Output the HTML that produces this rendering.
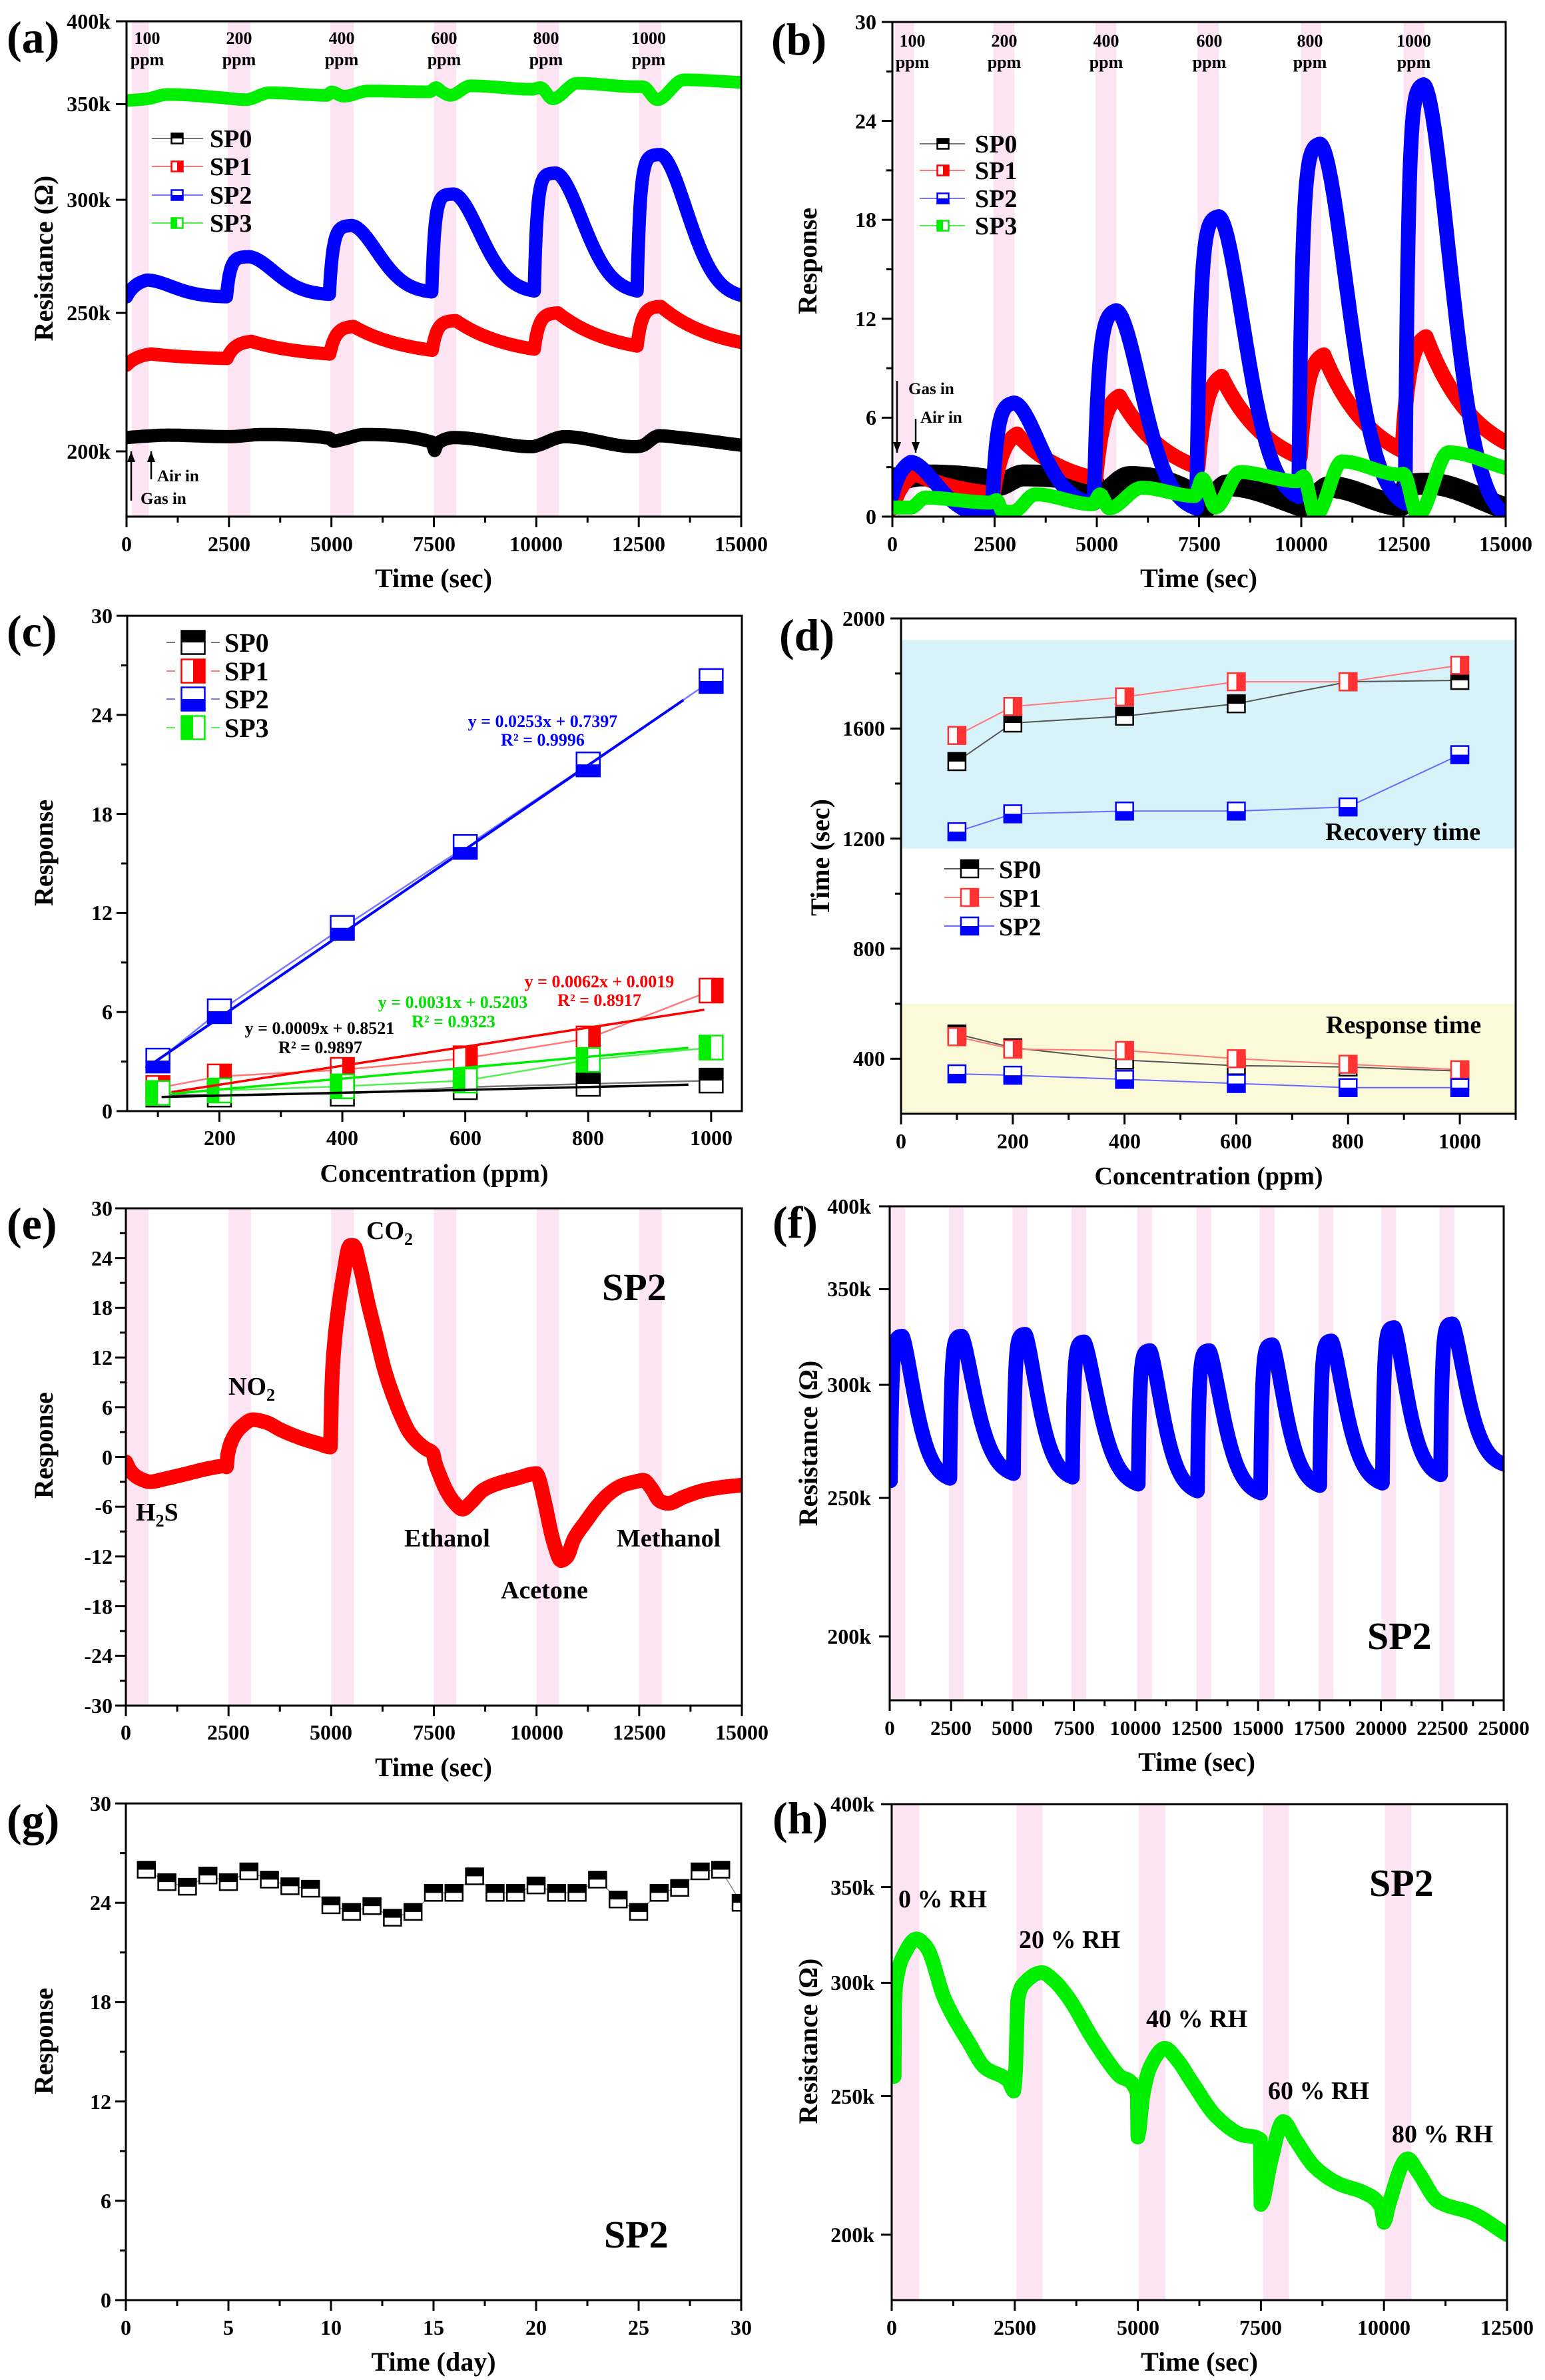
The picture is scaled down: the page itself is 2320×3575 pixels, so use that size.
<!DOCTYPE html>
<html><head><meta charset="utf-8">
<style>
html,body{margin:0;padding:0;background:#fff;}
svg{display:block;}
text{font-family:"Liberation Serif","Times New Roman",serif;font-weight:bold;fill:#000;}
.tk{font-size:32px;}
.tk31{font-size:31px;}
.tl{font-size:40px;}
.tc{font-size:38px;}
.pl{font-size:68px;}
.lg{font-size:38px;}
.lc{font-size:40px;}
.pp{font-size:26px;}
.an{font-size:25px;}
.gs{font-size:38px;}
.eq{font-size:26px;}
.sp{font-size:58px;}
.m{text-anchor:middle;}
.e{text-anchor:end;}
</style></head><body>
<svg id="s" width="2320" height="3575" viewBox="0 0 2320 3575" xmlns="http://www.w3.org/2000/svg">
<defs id="defs"></defs>
<rect x="0" y="0" width="2320" height="3575" fill="#fff"/>
<g id="bg"></g>
<g id="data"></g>
<g id="fg"></g>

<!-- ===== Panel (a) ===== -->
<text class="pl" x="10" y="79">(a)</text>
<text class="tk e" x="166" y="43">400k</text>
<text class="tk e" x="166" y="167">350k</text>
<text class="tk e" x="166" y="311">300k</text>
<text class="tk e" x="166" y="481">250k</text>
<text class="tk e" x="166" y="689">200k</text>
<text class="tk m" x="190" y="828">0</text>
<text class="tk m" x="344" y="828">2500</text>
<text class="tk m" x="498" y="828">5000</text>
<text class="tk m" x="652" y="828">7500</text>
<text class="tk m" x="805" y="828">10000</text>
<text class="tk m" x="959" y="828">12500</text>
<text class="tk m" x="1113" y="828">15000</text>
<text class="tl m" x="651" y="882">Time (sec)</text>
<text class="tl m" transform="translate(79,388) rotate(-90)">Resistance (Ω)</text>
<text class="pp m" x="221" y="66">100</text><text class="pp m" x="221" y="98">ppm</text>
<text class="pp m" x="359" y="66">200</text><text class="pp m" x="359" y="98">ppm</text>
<text class="pp m" x="513" y="66">400</text><text class="pp m" x="513" y="98">ppm</text>
<text class="pp m" x="667" y="66">600</text><text class="pp m" x="667" y="98">ppm</text>
<text class="pp m" x="820" y="66">800</text><text class="pp m" x="820" y="98">ppm</text>
<text class="pp m" x="974" y="66">1000</text><text class="pp m" x="974" y="98">ppm</text>
<text class="lg" x="315" y="221">SP0</text>
<text class="lg" x="315" y="263">SP1</text>
<text class="lg" x="315" y="306">SP2</text>
<text class="lg" x="315" y="348">SP3</text>
<text class="an" x="236" y="723">Air in</text>
<text class="an" x="211" y="757">Gas in</text>

<!-- ===== Panel (b) ===== -->
<text class="pl" x="1158" y="82">(b)</text>
<text class="tk e" x="1316" y="44">30</text>
<text class="tk e" x="1316" y="193">24</text>
<text class="tk e" x="1316" y="341">18</text>
<text class="tk e" x="1316" y="490">12</text>
<text class="tk e" x="1316" y="638">6</text>
<text class="tk e" x="1316" y="787">0</text>
<text class="tk m" x="1340" y="828">0</text>
<text class="tk m" x="1494" y="828">2500</text>
<text class="tk m" x="1647" y="828">5000</text>
<text class="tk m" x="1801" y="828">7500</text>
<text class="tk m" x="1954" y="828">10000</text>
<text class="tk m" x="2108" y="828">12500</text>
<text class="tk m" x="2261" y="828">15000</text>
<text class="tl m" x="1800" y="882">Time (sec)</text>
<text class="tl m" transform="translate(1226,392) rotate(-90)">Response</text>
<text class="pp m" x="1370" y="70">100</text><text class="pp m" x="1370" y="102">ppm</text>
<text class="pp m" x="1508" y="70">200</text><text class="pp m" x="1508" y="102">ppm</text>
<text class="pp m" x="1661" y="70">400</text><text class="pp m" x="1661" y="102">ppm</text>
<text class="pp m" x="1816" y="70">600</text><text class="pp m" x="1816" y="102">ppm</text>
<text class="pp m" x="1967" y="70">800</text><text class="pp m" x="1967" y="102">ppm</text>
<text class="pp m" x="2123" y="70">1000</text><text class="pp m" x="2123" y="102">ppm</text>
<text class="lg" x="1464" y="229">SP0</text>
<text class="lg" x="1464" y="269">SP1</text>
<text class="lg" x="1464" y="311">SP2</text>
<text class="lg" x="1464" y="352">SP3</text>
<text class="an" x="1364" y="592">Gas in</text>
<text class="an" x="1382" y="635">Air in</text>

<!-- ===== Panel (c) ===== -->
<text class="pl" x="10" y="971">(c)</text>
<text class="tk e" x="169" y="936">30</text>
<text class="tk e" x="169" y="1085">24</text>
<text class="tk e" x="169" y="1234">18</text>
<text class="tk e" x="169" y="1382">12</text>
<text class="tk e" x="169" y="1531">6</text>
<text class="tk e" x="169" y="1680">0</text>
<text class="tk m" x="330" y="1720">200</text>
<text class="tk m" x="514" y="1720">400</text>
<text class="tk m" x="699" y="1720">600</text>
<text class="tk m" x="883" y="1720">800</text>
<text class="tk m" x="1068" y="1720">1000</text>
<text class="tc m" x="652" y="1775">Concentration (ppm)</text>
<text class="tl m" transform="translate(79,1281) rotate(-90)">Response</text>
<text class="lc" x="337" y="979">SP0</text>
<text class="lc" x="337" y="1022">SP1</text>
<text class="lc" x="337" y="1064">SP2</text>
<text class="lc" x="337" y="1107">SP3</text>
<text class="eq m" x="815" y="1092" style="fill:#0000ff">y = 0.0253x + 0.7397</text>
<text class="eq m" x="815" y="1120" style="fill:#0000ff">R² = 0.9996</text>
<text class="eq m" x="900" y="1483" style="fill:#ff0000">y = 0.0062x + 0.0019</text>
<text class="eq m" x="900" y="1511" style="fill:#ff0000">R² = 0.8917</text>
<text class="eq m" x="680" y="1514" style="fill:#00dd00">y = 0.0031x + 0.5203</text>
<text class="eq m" x="681" y="1543" style="fill:#00dd00">R² = 0.9323</text>
<text class="eq m" x="480" y="1553">y = 0.0009x + 0.8521</text>
<text class="eq m" x="481" y="1582">R² = 0.9897</text>

<!-- ===== Panel (d) ===== -->
<text class="pl" x="1170" y="977">(d)</text>
<text class="tk e" x="1329" y="940">2000</text>
<text class="tk e" x="1329" y="1105">1600</text>
<text class="tk e" x="1329" y="1271">1200</text>
<text class="tk e" x="1329" y="1436">800</text>
<text class="tk e" x="1329" y="1601">400</text>
<text class="tk m" x="1353" y="1725">0</text>
<text class="tk m" x="1521" y="1725">200</text>
<text class="tk m" x="1689" y="1725">400</text>
<text class="tk m" x="1856" y="1725">600</text>
<text class="tk m" x="2024" y="1725">800</text>
<text class="tk m" x="2192" y="1725">1000</text>
<text class="tc m" x="1815" y="1779">Concentration (ppm)</text>
<text class="tl m" transform="translate(1245,1288) rotate(-90)">Time (sec)</text>
<text class="gs" x="1990" y="1262">Recovery time</text>
<text class="gs" x="1991" y="1552">Response time</text>
<text class="lg" x="1500" y="1319">SP0</text>
<text class="lg" x="1500" y="1362">SP1</text>
<text class="lg" x="1500" y="1405">SP2</text>

<!-- ===== Panel (e) ===== -->
<text class="pl" x="10" y="1861">(e)</text>
<text class="tk e" x="169" y="1826">30</text>
<text class="tk e" x="169" y="1901">24</text>
<text class="tk e" x="169" y="1975">18</text>
<text class="tk e" x="169" y="2050">12</text>
<text class="tk e" x="169" y="2125">6</text>
<text class="tk e" x="169" y="2200">0</text>
<text class="tk e" x="169" y="2274">-6</text>
<text class="tk e" x="169" y="2349">-12</text>
<text class="tk e" x="169" y="2424">-18</text>
<text class="tk e" x="169" y="2498">-24</text>
<text class="tk e" x="169" y="2573">-30</text>
<text class="tk m" x="189" y="2613">0</text>
<text class="tk m" x="343" y="2613">2500</text>
<text class="tk m" x="497" y="2613">5000</text>
<text class="tk m" x="652" y="2613">7500</text>
<text class="tk m" x="806" y="2613">10000</text>
<text class="tk m" x="960" y="2613">12500</text>
<text class="tk m" x="1114" y="2613">15000</text>
<text class="tl m" x="651" y="2668">Time (sec)</text>
<text class="tl m" transform="translate(79,2171) rotate(-90)">Response</text>
<text class="gs" x="550" y="1861">CO<tspan font-size="26" dy="9">2</tspan></text>
<text class="gs" x="343" y="2095">NO<tspan font-size="26" dy="9">2</tspan></text>
<text class="gs" x="204" y="2284">H<tspan font-size="26" dy="9">2</tspan><tspan dy="-9">S</tspan></text>
<text class="gs" x="607" y="2323">Ethanol</text>
<text class="gs" x="752" y="2401">Acetone</text>
<text class="gs" x="926" y="2323">Methanol</text>
<text class="sp" x="904" y="1953">SP2</text>

<!-- ===== Panel (f) ===== -->
<text class="pl" x="1160" y="1859">(f)</text>
<text class="tk e" x="1308" y="1823">400k</text>
<text class="tk e" x="1308" y="1947">350k</text>
<text class="tk e" x="1308" y="2091">300k</text>
<text class="tk e" x="1308" y="2261">250k</text>
<text class="tk e" x="1308" y="2469">200k</text>
<text class="tk31 m" x="1336" y="2606">0</text>
<text class="tk31 m" x="1428" y="2606">2500</text>
<text class="tk31 m" x="1520" y="2606">5000</text>
<text class="tk31 m" x="1613" y="2606">7500</text>
<text class="tk31 m" x="1705" y="2606">10000</text>
<text class="tk31 m" x="1797" y="2606">12500</text>
<text class="tk31 m" x="1889" y="2606">15000</text>
<text class="tk31 m" x="1981" y="2606">17500</text>
<text class="tk31 m" x="2074" y="2606">20000</text>
<text class="tk31 m" x="2166" y="2606">22500</text>
<text class="tk31 m" x="2258" y="2606">25000</text>
<text class="tl m" x="1797" y="2660">Time (sec)</text>
<text class="tl m" transform="translate(1227,2168) rotate(-90)">Resistance (Ω)</text>
<text class="sp" x="2053" y="2477">SP2</text>

<!-- ===== Panel (g) ===== -->
<text class="pl" x="10" y="2757">(g)</text>
<text class="tk e" x="167" y="2720">30</text>
<text class="tk e" x="167" y="2869">24</text>
<text class="tk e" x="167" y="3018">18</text>
<text class="tk e" x="167" y="3168">12</text>
<text class="tk e" x="167" y="3317">6</text>
<text class="tk e" x="167" y="3466">0</text>
<text class="tk m" x="189" y="3507">0</text>
<text class="tk m" x="343" y="3507">5</text>
<text class="tk m" x="497" y="3507">10</text>
<text class="tk m" x="651" y="3507">15</text>
<text class="tk m" x="805" y="3507">20</text>
<text class="tk m" x="959" y="3507">25</text>
<text class="tk m" x="1113" y="3507">30</text>
<text class="tl m" x="651" y="3561">Time (day)</text>
<text class="tl m" transform="translate(79,3066) rotate(-90)">Response</text>
<text class="sp" x="907" y="3376">SP2</text>

<!-- ===== Panel (h) ===== -->
<text class="pl" x="1160" y="2754">(h)</text>
<text class="tk e" x="1313" y="2721">400k</text>
<text class="tk e" x="1313" y="2846">350k</text>
<text class="tk e" x="1313" y="2989">300k</text>
<text class="tk e" x="1313" y="3160">250k</text>
<text class="tk e" x="1313" y="3368">200k</text>
<text class="tk m" x="1339" y="3507">0</text>
<text class="tk m" x="1524" y="3507">2500</text>
<text class="tk m" x="1709" y="3507">5000</text>
<text class="tk m" x="1893" y="3507">7500</text>
<text class="tk m" x="2078" y="3507">10000</text>
<text class="tk m" x="2263" y="3507">12500</text>
<text class="tl m" x="1801" y="3561">Time (sec)</text>
<text class="tl m" transform="translate(1227,3066) rotate(-90)">Resistance (Ω)</text>
<text class="gs" x="1349" y="2865">0 % RH</text>
<text class="gs" x="1530" y="2926">20 % RH</text>
<text class="gs" x="1721" y="3045">40 % RH</text>
<text class="gs" x="1904" y="3153">60 % RH</text>
<text class="gs" x="2090" y="3218">80 % RH</text>
<text class="sp" x="2056" y="2848">SP2</text>
</svg>
<script>
(function(){
var NS="http://www.w3.org/2000/svg";
var BG=document.getElementById('bg'),DA=document.getElementById('data'),FG=document.getElementById('fg'),DEFS=document.getElementById('defs');
function el(tag,at,par){var e=document.createElementNS(NS,tag);for(var k in at)e.setAttribute(k,at[k]);par.appendChild(e);return e;}
var P={
a:{x0:190,x1:1113,y0:32,y1:776,xa:0,xb:15000,k:932},
b:{x0:1340,x1:2261,y0:33,y1:776,xa:0,xb:15000,ya:0,yb:30},
c:{x0:191,x1:1114,y0:925,y1:1669,xa:50,xb:1050,ya:0,yb:30},
d:{x0:1353,x1:2276,y0:929,y1:1673,xa:0,xb:1100,ya:200,yb:2000},
e:{x0:189,x1:1114,y0:1815,y1:2562,xa:0,xb:15000,ya:-30,yb:30},
f:{x0:1336,x1:2258,y0:1812,y1:2554,xa:0,xb:25000,k:932},
g:{x0:189,x1:1113,y0:2709,y1:3455,xa:0,xb:30,ya:0,yb:30},
h:{x0:1339,x1:2263,y0:2710,y1:3455,xa:0,xb:12500,k:933}
};
function X(p,v){return p.x0+(v-p.xa)/(p.xb-p.xa)*(p.x1-p.x0);}
function Y(p,v){return p.k?p.y0+Math.log(400/v)*p.k:p.y1-(v-p.ya)/(p.yb-p.ya)*(p.y1-p.y0);}
var G={};
for(var n in P){var p=P[n];p.n=n;
 var cp=el('clipPath',{id:'c'+n},DEFS);
 el('rect',{x:p.x0,y:p.y0,width:p.x1-p.x0,height:p.y1-p.y0},cp);
 G[n]=el('g',{'clip-path':'url(#c'+n+')'},DA);
 el('rect',{x:p.x0,y:p.y0,width:p.x1-p.x0,height:p.y1-p.y0,fill:'none',stroke:'#000','stroke-width':3},FG);
}
function rng(a,b,s){var r=[];for(var v=a;v<=b+1e-9;v+=s)r.push(v);return r;}
function tx(p,vals,len){vals.forEach(function(v){var x=X(p,v);el('line',{x1:x,y1:p.y1,x2:x,y2:p.y1+len,stroke:'#000','stroke-width':3},FG);});}
function ty(p,vals,len){vals.forEach(function(v){var y=Y(p,v);el('line',{x1:p.x0-len,y1:y,x2:p.x0,y2:y,stroke:'#000','stroke-width':3},FG);});}
var MJ=16,MN=9;
tx(P.a,rng(0,15000,2500),MJ);tx(P.a,rng(1250,13750,2500),MN);ty(P.a,[400,350,300,250,200],MJ);
tx(P.b,rng(0,15000,2500),MJ);tx(P.b,rng(1250,13750,2500),MN);ty(P.b,rng(0,30,6),MJ);ty(P.b,rng(3,27,6),MN);
tx(P.c,rng(200,1000,200),MJ);tx(P.c,rng(100,900,200),MN);ty(P.c,rng(0,30,6),MJ);ty(P.c,rng(3,27,6),MN);
tx(P.d,rng(0,1000,200),MJ);tx(P.d,rng(100,1100,200),MN);ty(P.d,rng(400,2000,400),MJ);ty(P.d,rng(600,1800,400),MN);
tx(P.e,rng(0,15000,2500),MJ);tx(P.e,rng(1250,13750,2500),MN);ty(P.e,rng(-30,30,6),MJ);ty(P.e,rng(-27,27,6),MN);
tx(P.f,rng(0,25000,2500),MJ);tx(P.f,rng(1250,23750,2500),MN);ty(P.f,[400,350,300,250,200],MJ);
tx(P.g,rng(0,30,5),MJ);tx(P.g,rng(2.5,27.5,5),MN);ty(P.g,rng(0,30,6),MJ);ty(P.g,rng(3,27,6),MN);
tx(P.h,rng(0,12500,2500),MJ);tx(P.h,rng(1250,11250,2500),MN);ty(P.h,[400,350,300,250,200],MJ);

var PINK='#fce4f3';
function bands(p,list){list.forEach(function(b){var xa=X(p,b[0]),xb=X(p,b[1]);el('rect',{x:xa,y:p.y0,width:xb-xa,height:p.y1-p.y0,fill:PINK},BG);});}
bands(P.a,[[130,540],[2470,3025],[4975,5540],[7505,8050],[10010,10555],[12505,13050]]);
bands(P.b,[[60,530],[2470,2985],[4968,5475],[7465,7982],[9996,10490],[12504,13010]]);
bands(P.e,[[0,550],[2500,3050],[5000,5550],[7500,8050],[10000,10550],[12500,13050]]);
bands(P.f,[30,2410,5000,7400,10080,12490,15060,17470,20020,22390].map(function(t){return [t,t+600];}));
bands(P.h,[[30,560],[2534,3065],[5018,5560],[7542,8073],[10016,10557]]);
(function(){var p=P.d;var yA=Y(p,1921),yB=Y(p,1164);
el('rect',{x:p.x0,y:yA,width:p.x1-p.x0,height:yB-yA,fill:'#d8f2fa'},BG);
var yC=Y(p,600);el('rect',{x:p.x0,y:yC,width:p.x1-p.x0,height:p.y1-yC,fill:'#fafad8'},BG);})();

function path(p,pts,col,w,par,extra){
 var d='M'+pts.map(function(q){return X(p,q[0]).toFixed(1)+','+Y(p,q[1]).toFixed(1);}).join('L');
 var at={d:d,fill:'none',stroke:col,'stroke-width':w,'stroke-linejoin':'round','stroke-linecap':'round'};
 if(extra)for(var k in extra)at[k]=extra[k];
 return el('path',at,par||G[p.n]);
}
function smooth(pts){
 var n=pts.length;if(n<3)return pts;
 var h=[],d=[],m=[],i;
 for(i=0;i<n-1;i++){h[i]=pts[i+1][0]-pts[i][0];d[i]=(pts[i+1][1]-pts[i][1])/h[i];}
 m[0]=d[0];m[n-1]=d[n-2];
 for(i=1;i<n-1;i++){
  if(d[i-1]*d[i]<=0)m[i]=0;
  else{var w1=2*h[i]+h[i-1],w2=h[i]+2*h[i-1];m[i]=(w1+w2)/(w1/d[i-1]+w2/d[i]);}
 }
 var out=[];
 for(i=0;i<n-1;i++){
  var steps=Math.max(2,Math.min(16,Math.round(h[i]/40)));
  for(var s=0;s<steps;s++){
   var t=s/steps,t2=t*t,t3=t2*t;
   var h00=2*t3-3*t2+1,h10=t3-2*t2+t,h01=-2*t3+3*t2,h11=t3-t2;
   out.push([pts[i][0]+t*h[i],h00*pts[i][1]+h10*h[i]*m[i]+h01*pts[i+1][1]+h11*h[i]*m[i+1]]);
  }
 }
 out.push(pts[n-1]);
 return out;
}
function gexp(c){var e=Math.exp(-c);return function(u){return (Math.exp(-c*u)-e)/(1-e);};}
function gstr(s,pw){var e=Math.exp(-Math.pow(s,pw));return function(u){return (Math.exp(-Math.pow(s*u,pw))-e)/(1-e);};}
function cycles(o){
 var pts=[],n=o.starts.length;
 for(var k=0;k<n;k++){
  var t0=o.starts[k],t1=k+1<n?o.starts[k+1]:o.tEnd;
  var b=o.bases[k],pk=o.peaks[k],nb=k+1<n?o.bases[k+1]:o.end;
  var Tr=Array.isArray(o.Tr)?o.Tr[k]:o.Tr,a=Array.isArray(o.a)?o.a[k]:o.a;
  for(var t=t0;t<t1;t+=10){
   var v;
   if(t<=t0+Tr){var u=(t-t0)/Tr;v=b+(pk-b)*(1-Math.exp(-a*u))/(1-Math.exp(-a));}
   else{var u2=(t-t0-Tr)/(t1-t0-Tr);v=nb+(pk-nb)*o.g(u2);}
   if(o.min!==undefined&&v<o.min)v=o.min;
   pts.push([t,v]);
  }
 }
 pts.push([o.tEnd,o.end]);
 return pts;
}
var K='#000000',R='#ff0000',B='#0000ff',GR='#00ee00';

// ---- (a)
path(P.a,smooth([[0,204.5],[500,205],[1000,205.3],[2500,204.8],[3300,205.5],[4950,204.3],[5050,203.3],[5300,204],[5800,205.5],[7450,203],[7520,200.3],[7580,202.5],[8000,204.5],[9900,201.5],[10000,201.8],[10700,204.8],[12400,201.5],[12550,201.7],[13000,205.1],[13500,204.5],[15000,202]]),K,20);
path(P.a,cycles({starts:[0,2450,4960,7460,9950,12460],Tr:[600,600,580,580,580,580],a:[2,3,4,5,5,5],peaks:[234,238.8,244.6,246.9,250,252.6],bases:[229.8,232.3,234,235.4,235.8,237],end:238.4,tEnd:15000,g:gexp(1.5)}),R,20);
path(P.a,cycles({starts:[0,2440,4950,7450,9950,12460],Tr:[500,540,540,530,520,560],a:[2,6,6,7,7,7],peaks:[263.6,273.7,287.8,302.8,313.2,322.7],bases:[256.6,256.6,257.6,258.6,259,259],end:257.2,tEnd:15000,g:gstr(2.17,1.8)}),B,20);
path(P.a,smooth([[0,352],[500,353],[1000,355.5],[2400,353.5],[2600,353],[2900,352.5],[3500,356.5],[4900,355],[5000,357],[5300,354.5],[5900,357.5],[7400,357],[7550,359.5],[7700,357],[7900,355],[8400,360.5],[9900,358.5],[10100,359.5],[10400,353],[11000,362],[12400,360],[12600,360],[12950,352.5],[13600,364],[15000,362.5]]),GR,19);

// ---- (b)
path(P.b,smooth([[0,2.3],[400,2.4],[700,2.5],[2400,2.2],[2550,1.9],[3200,2.5],[4950,1.9],[5050,1.3],[5800,2.4],[7450,1.2],[7580,0.5],[8200,1.9],[9950,0.7],[10050,0.6],[10700,1.8],[12450,0.7],[12600,1.9],[13100,2.0],[15000,0.5]]),K,33);
path(P.b,cycles({starts:[0,2470,4970,7470,9970,12470],Tr:580,a:[2,2.5,3,3,3.5,3.5],peaks:[2.6,5.0,7.3,8.5,9.8,10.9],bases:[0.5,1.4,2.3,3.0,3.6,4.0],end:4.5,tEnd:15000,g:gexp(1.6)}),R,23);
path(P.b,cycles({starts:[0,2436,4932,7440,9936,12540],Tr:[450,540,540,540,520,450],a:[2,5,5,6,6,6],peaks:[3.3,6.9,12.5,18.2,22.6,26.2],bases:[1.3,0,0.8,0.5,1.2,0.8],end:0.1,tEnd:15000,g:gstr(2.17,1.8),min:0}),B,22);
path(P.b,smooth([[0,0.55],[450,0.55],[800,1.15],[2400,0.85],[2550,1.0],[2700,0.3],[2950,0.3],[3500,1.35],[4900,0.75],[5080,1.35],[5300,0.5],[6100,1.75],[7400,1.25],[7580,2.3],[7900,0.55],[8500,2.7],[9900,2.15],[10050,2.45],[10350,0.05],[11000,3.35],[12400,2.55],[12500,2.6],[12850,0.05],[13600,3.9],[15000,2.95]]),GR,21);

function arrow(x,ya,yb,up){el('line',{x1:x,y1:ya,x2:x,y2:yb,stroke:'#000','stroke-width':2.5},FG);
 var tip=up?ya:yb,dir=up?1:-1;
 el('polygon',{points:x+','+tip+' '+(x-6)+','+(tip+dir*16)+' '+(x+6)+','+(tip+dir*16),fill:'#000'},FG);}
arrow(197,678,752,true);arrow(227,678,720,true);
arrow(1347,572,680,false);arrow(1375,629,680,false);

function mk(x,y,w,h,col,half,par){
 el('rect',{x:x-w/2,y:y-h/2,width:w,height:h,fill:'#fff',stroke:col,'stroke-width':2.5},par);
 var r;
 if(half=='top')r={x:x-w/2,y:y-h/2,width:w,height:h/2};
 else if(half=='bottom')r={x:x-w/2,y:y,width:w,height:h/2};
 else if(half=='left')r={x:x-w/2,y:y-h/2,width:w/2,height:h};
 else r={x:x,y:y-h/2,width:w/2,height:h};
 r.fill=col;el('rect',r,par);
}
var LC=['#777777','#ff7777','#7777ff','#55ee55'],MC=[K,R,B,GR],HF=['top','right','bottom','left'];
[208,250,293,335].forEach(function(y,i){el('line',{x1:228,y1:y,x2:305,y2:y,stroke:LC[i],'stroke-width':2},FG);mk(266,y,17,15,MC[i],HF[i],FG);});
[216,256,298,339].forEach(function(y,i){el('line',{x1:1381,y1:y,x2:1449,y2:y,stroke:LC[i],'stroke-width':2},FG);mk(1416,y,17,15,MC[i],HF[i],FG);});
[965,1008,1050,1093].forEach(function(y,i){el('line',{x1:250,y1:y,x2:263,y2:y,stroke:LC[i],'stroke-width':2},FG);el('line',{x1:317,y1:y,x2:330,y2:y,stroke:LC[i],'stroke-width':2},FG);mk(290,y,35,35,MC[i],HF[i],FG);});
var LD=['#555555','#ff7777','#6a6aff'];
[1305,1348,1391].forEach(function(y,i){el('line',{x1:1418,y1:y,x2:1493,y2:y,stroke:LD[i],'stroke-width':2},FG);mk(1456,y,26,26,i==1?'#ff3333':MC[i],HF[i],FG);});

// ---- (c)
var C=[
 [[100,1.0],[200,1.0],[400,1.05],[600,1.45],[800,1.65],[1000,1.85]],
 [[100,1.4],[200,2.1],[400,2.5],[600,3.2],[800,4.4],[1000,7.3]],
 [[100,3.06],[200,6.05],[400,11.1],[600,16.0],[800,21.0],[1000,26.05]],
 [[100,1.1],[200,1.25],[400,1.5],[600,1.85],[800,3.1],[1000,3.85]]];
C.forEach(function(s,i){path(P.c,s,LC[i],2.5);});
C.forEach(function(s,i){s.forEach(function(q){mk(X(P.c,q[0]),Y(P.c,q[1]),35,36,MC[i],HF[i],G.c);});});
path(P.c,[[80,2.6],[955,24.9]],B,4,null,{'stroke-linecap':'butt'});
path(P.c,[[122,1.15],[989,6.14]],R,3.5,null,{'stroke-linecap':'butt'});
path(P.c,[[122,1.05],[963,3.83]],GR,3.5,null,{'stroke-linecap':'butt'});
path(P.c,[[106,0.86],[963,1.6]],K,3.5,null,{'stroke-linecap':'butt'});

// ---- (d)
var D=[
 [[[100,1480],[200,1620],[400,1645],[600,1690],[800,1770],[1000,1775]],[[100,490],[200,440],[400,395],[600,375],[800,370],[1000,355]]],
 [[[100,1575],[200,1680],[400,1715],[600,1770],[800,1770],[1000,1830]],[[100,480],[200,435],[400,430],[600,400],[800,380],[1000,360]]],
 [[[100,1225],[200,1290],[400,1300],[600,1300],[800,1315],[1000,1505]],[[100,345],[200,340],[400,325],[600,310],[800,295],[1000,295]]]];
D.forEach(function(ss,i){ss.forEach(function(s){path(P.d,s,LD[i],2);});});
D.forEach(function(ss,i){ss.forEach(function(s){s.forEach(function(q){mk(X(P.d,q[0]),Y(P.d,q[1]),26,26,i==1?'#ff3333':MC[i],HF[i],G.d);});});});

// ---- (e)
path(P.e,smooth([[0,-0.6],[100,-1.6],[300,-2.5],[600,-3.0],[900,-2.7],[1500,-2.0],[2000,-1.4],[2400,-1.1],[2450,-1.2],[2480,0.3],[2600,2.2],[2800,3.6],[3100,4.5],[3400,4.2],[3800,3.2],[4300,2.2],[4700,1.6],[4980,1.2],[5010,8],[5050,12],[5150,17],[5300,22],[5450,25.5],[5550,25.5],[5700,23],[5900,18.5],[6100,14.5],[6300,10.5],[6500,7.5],[6700,5],[6900,3.0],[7100,1.8],[7300,1.0],[7480,0.4],[7520,-0.5],[7650,-2.3],[7800,-4],[8000,-5.5],[8200,-6.3],[8400,-5.5],[8700,-4.0],[9000,-3.3],[9500,-2.6],[10000,-2.0],[10050,-2.5],[10200,-5.5],[10400,-10],[10600,-12.5],[10750,-12],[10900,-10],[11200,-7.8],[11500,-5.8],[11800,-4.3],[12100,-3.4],[12400,-3.0],[12600,-2.8],[12800,-3.8],[13000,-5.3],[13200,-5.6],[13600,-4.8],[14100,-4.0],[14600,-3.6],[15000,-3.4]]),R,22);

// ---- (f)
path(P.f,cycles({starts:[30,2450,5040,7440,10120,12530,15100,17510,20060,22430],Tr:480,a:7,peaks:[324.5,324.5,325.5,321.5,317,317,320,322,329,331],bases:[257,258,260,258.5,255.6,252.8,252,255,256,259.5],end:264,tEnd:25000,g:gstr(2.64,1.4)}),B,22);
path(P.f,[[0,257],[30,257]],B,22);

// ---- (g)
var Gd=[26.0,25.25,24.97,25.65,25.25,25.9,25.4,25.0,24.85,23.85,23.45,23.8,23.1,23.45,24.6,24.6,25.6,24.6,24.6,25.05,24.6,24.6,25.4,24.2,23.45,24.6,24.9,25.9,26.0,24.0];
var gp=Gd.map(function(v,i){return [i+1,v];});
path(P.g,gp,'#888888',1.5);
gp.forEach(function(q){mk(X(P.g,q[0]),Y(P.g,q[1]),26,24,K,'top',G.g);});

// ---- (h)
path(P.h,smooth([[50,258],[60,290],[100,302],[250,314],[500,322],[700,318],[1080,292],[1580,272],[1880,262],[2380,256],[2480,252],[2520,262],[2560,292],[2700,300],[3050,305],[3300,301],[3585,293],[4090,274],[4590,259],[4990,251],[5000,234],[5100,250],[5250,262],[5550,270],[5800,265],[6090,256],[6590,242],[7090,235],[7490,233],[7500,210],[7700,225],[7950,240],[8200,233],[8595,223],[9095,217],[9595,214],[9945,209],[10000,204],[10100,210],[10480,226],[10700,221],[11100,211],[11800,207],[12500,200]]),GR,22);
})();
</script>
</body></html>
